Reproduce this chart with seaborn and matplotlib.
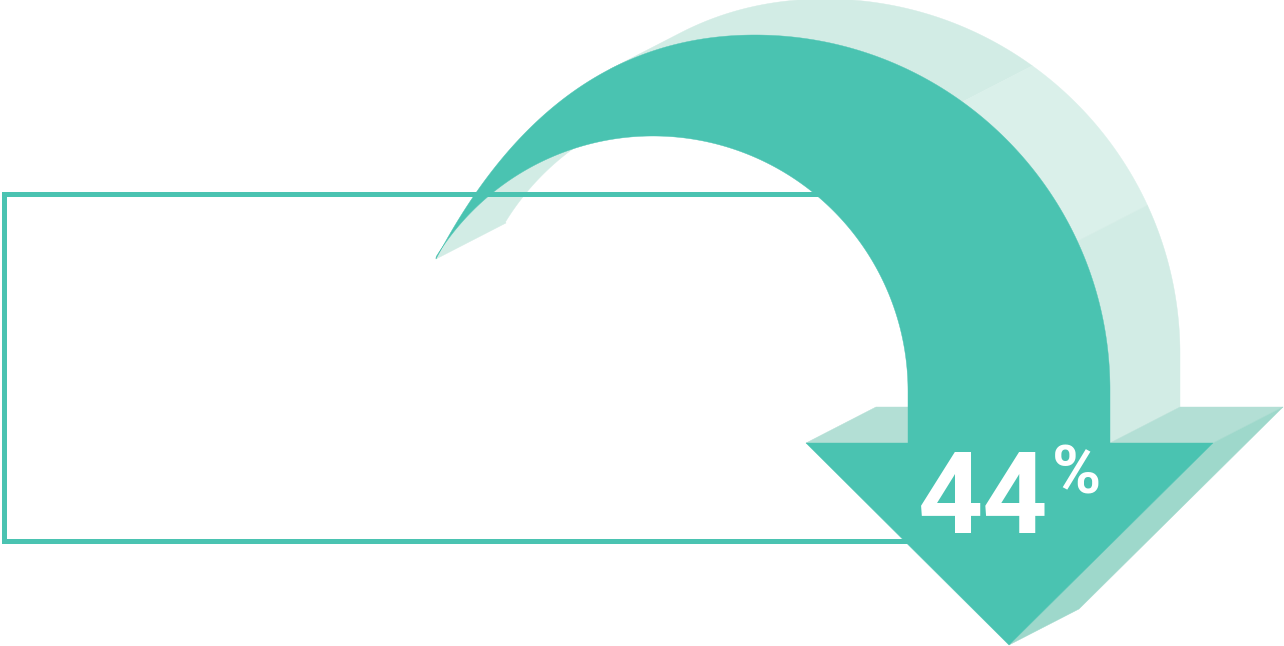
import numpy as np
import matplotlib
matplotlib.use("Agg")
import matplotlib.pyplot as plt
from matplotlib.patches import Polygon, Rectangle
import seaborn as sns

# ---- data ----
values = [44]
value_labels = ["44"]
unit_labels = ["%"]

sns.set_theme(style="white")
plt.rcParams['font.family'] = ['Roboto', 'DejaVu Sans']

W, H = 1284, 646
fig = plt.figure(figsize=(W / 100, H / 100), dpi=100)
ax = fig.add_axes([0, 0, 1, 1])
ax.set_xlim(0, W)
ax.set_ylim(H, 0)
ax.axis('off')

TEAL = "#4AC3B1"
SIDE = "#D2ECE5"
SIDE_LIGHT = "#DAF0EA"
FLAP = "#B3DFD5"
FACE = "#9ED8CB"
D = np.array([70.0, -36.0])


def bezier(p0, p1, p2, p3, n=300):
    p0, p1, p2, p3 = map(np.asarray, (p0, p1, p2, p3))
    t = np.linspace(0, 1, n)[:, None]
    return ((1 - t) ** 3) * p0 + 3 * ((1 - t) ** 2) * t * p1 + 3 * (1 - t) * t ** 2 * p2 + t ** 3 * p3


# outer edge of the arrow body
tip = np.array([436.0, 259.0])
seg1 = bezier(tip, (506, 126.4), (605, 35), (755, 35))
seg2 = bezier((755, 35), (951, 35), (1110, 194), (1110, 390))
outer = np.vstack([seg1, seg2[1:]])
outer_full = np.vstack([outer, [[1110, 443]]])

# inner edge (circle)
cx, cy, r = 653.0, 391.0, 255.0
th_tip = np.arctan2(cy - tip[1], tip[0] - cx)
th = np.linspace(0, th_tip, 300)
inner = np.column_stack([cx + r * np.cos(th), cy - r * np.sin(th)])
inner[-1] = tip

# silhouette on the outer edge
tang = np.gradient(outer, axis=0)
cross = tang[:, 0] * D[1] - tang[:, 1] * D[0]
i_sil = int(np.where((cross[:-1] > 0) & (cross[1:] <= 0))[0][0])


def nearest(p):
    return int(np.argmin(np.hypot(outer_full[:, 0] - p[0], outer_full[:, 1] - p[1])))


iA = nearest((963, 100))
iB = nearest((1080, 240))
iEnd = len(outer_full) - 1


def side_poly(pts):
    return np.vstack([pts, (pts + D)[::-1]])


for a, b, col in [(i_sil, iA, SIDE), (iA, iB, SIDE_LIGHT), (iB, iEnd, SIDE)]:
    ax.add_patch(Polygon(side_poly(outer_full[a:b + 1]), closed=True, fc=col, ec=col, lw=0.3, zorder=1))

# inner side near the tail
th_s = np.arctan2(-70.0, 36.0) % np.pi
th_in = np.linspace(th_s, th_tip, 200)
inner_vis = np.column_stack([cx + r * np.cos(th_in), cy - r * np.sin(th_in)])
inner_vis[-1] = tip
ax.add_patch(Polygon(side_poly(inner_vis), closed=True, fc=SIDE, ec=SIDE, lw=0.3, zorder=1))

# arrowhead top flaps and right face
head_l, head_r, head_b = (806.0, 443.0), (1213.0, 443.0), (1009.0, 645.0)
flap_r = np.array([(1110, 443), head_r, np.add(head_r, D), (1110 + D[0], 443 + D[1])])
flap_l = np.array([head_l, (908, 443), (908 + D[0], 443 + D[1]), np.add(head_l, D)])
face_r = np.array([head_r, head_b, np.add(head_b, D), np.add(head_r, D)])
ax.add_patch(Polygon(flap_r, closed=True, fc=FLAP, ec=FLAP, lw=0.3, zorder=1.5))
ax.add_patch(Polygon(flap_l, closed=True, fc=FLAP, ec=FLAP, lw=0.3, zorder=1.5))
ax.add_patch(Polygon(face_r, closed=True, fc=FACE, ec=FACE, lw=0.3, zorder=1.5))

# outlined box behind the arrow
ax.add_patch(Rectangle((3.5, 194), 1000 - 3.5, 540.5 - 194, fill=False, ec=TEAL, lw=3.6,
                       joinstyle='miter', zorder=2))

# front face of the arrow
front = np.vstack([
    outer,
    [[1110, 443], head_r, head_b, head_l, [908, 443]],
    inner,
])
ax.add_patch(Polygon(front, closed=True, fc=TEAL, ec=TEAL, lw=0.3, zorder=3))

# labels
ax.text(918, 533, value_labels[0], color='white', fontsize=82, fontweight='bold',
        ha='left', va='baseline', zorder=5)
ax.text(1052, 494, unit_labels[0], color='white', fontsize=48, fontweight='bold',
        ha='left', va='baseline', zorder=5)

fig.savefig("out.png", dpi=100, facecolor='white')
